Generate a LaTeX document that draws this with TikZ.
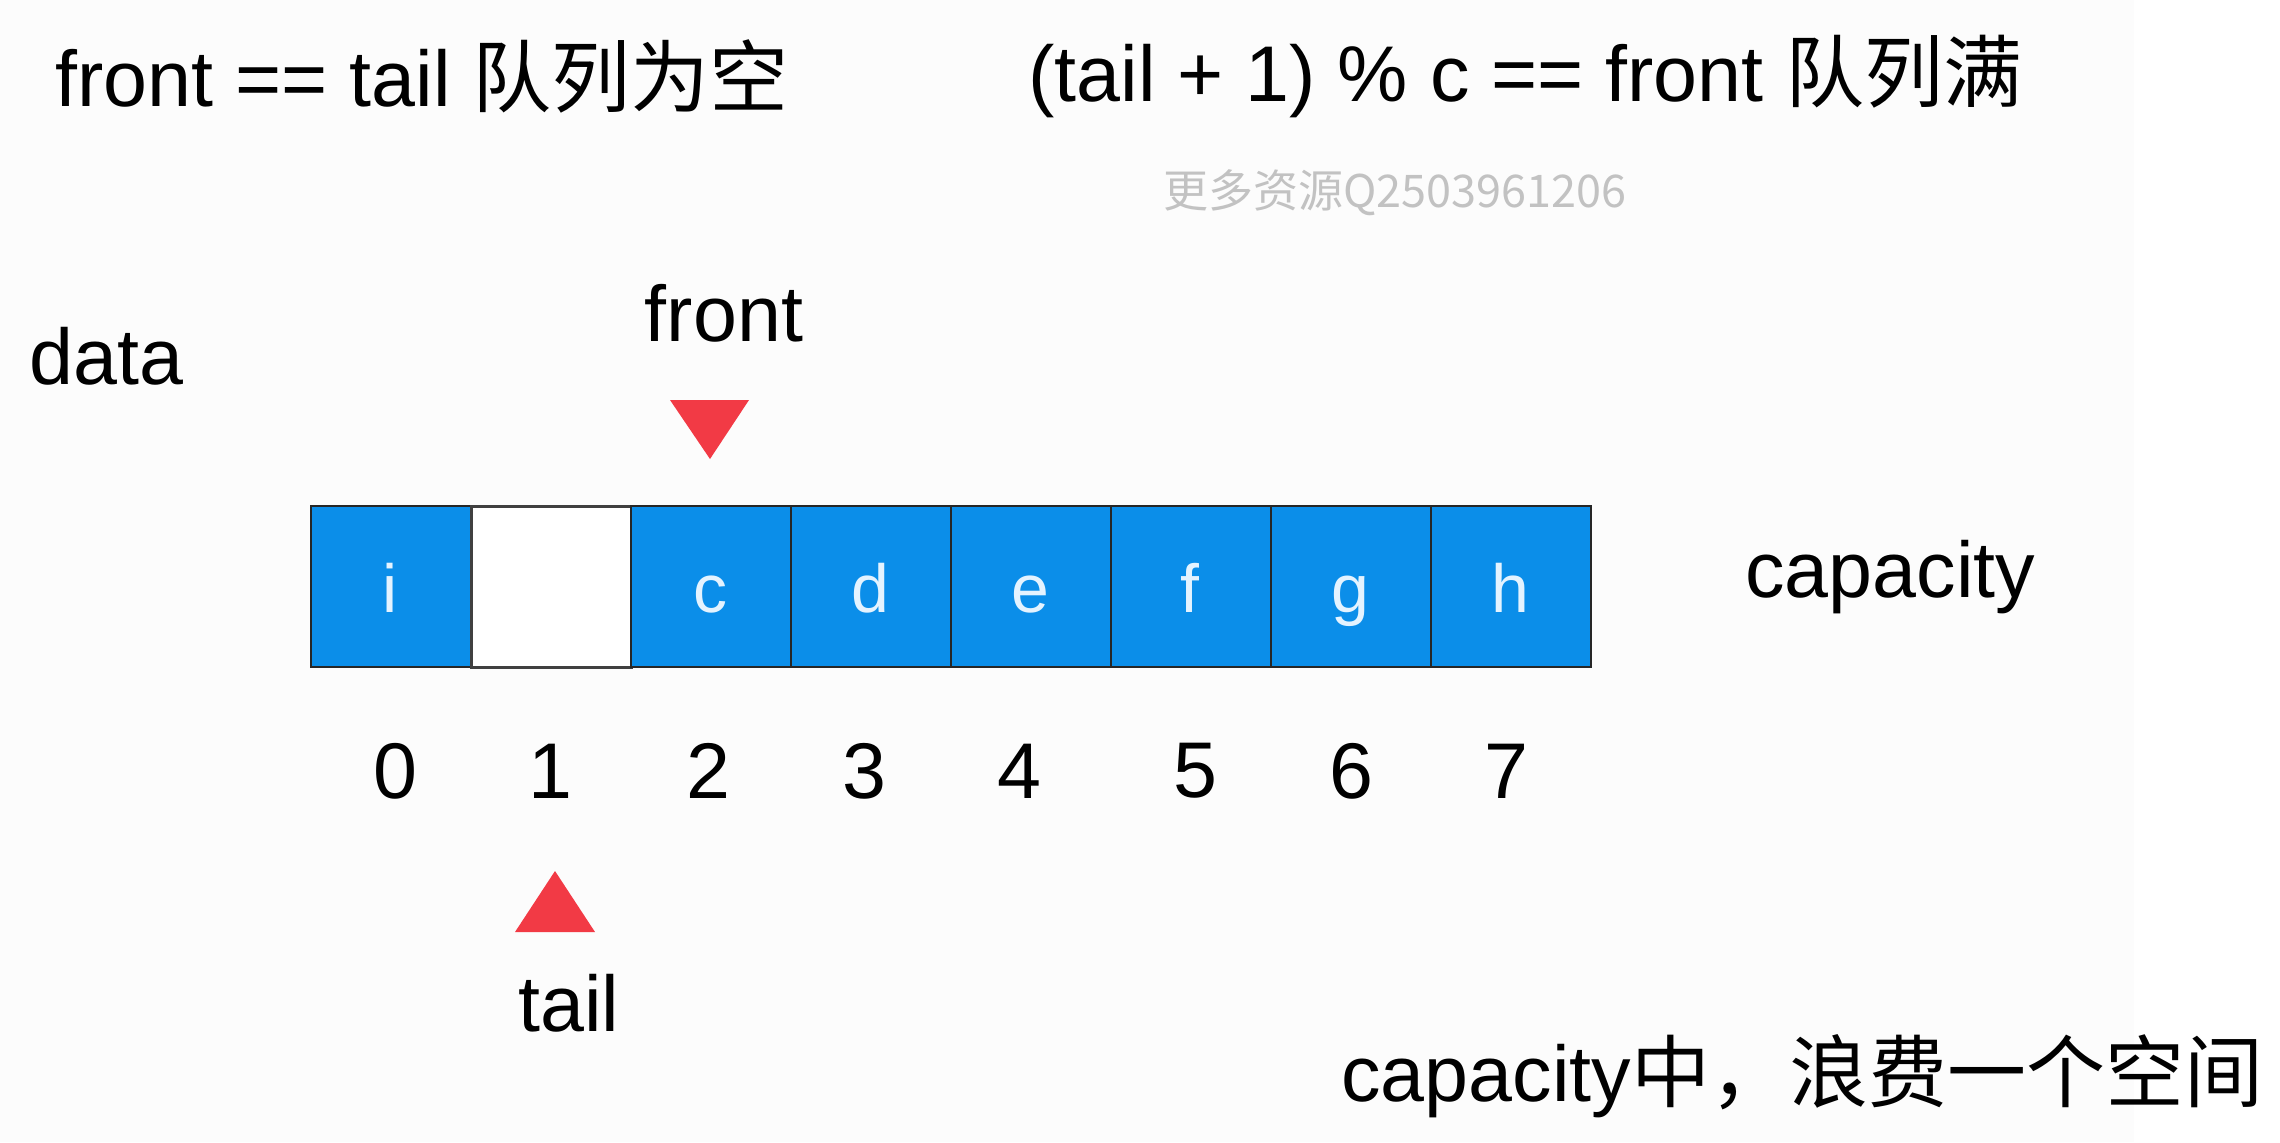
\documentclass[tikz,border=0pt]{standalone}
\usepackage{fontspec}
\setmainfont{Liberation Sans}
\newfontfamily\cjk{Noto Sans CJK SC}
\definecolor{cellblue}{HTML}{0B8EE9}
\definecolor{tri}{HTML}{F23A45}
\definecolor{wm}{HTML}{C2C2C2}
\definecolor{lettercol}{HTML}{E4F3FF}
\begin{document}
\begin{tikzpicture}[x=0.5pt,y=-0.5pt,
  big/.style={font=\fontsize{39.5}{47}\selectfont, inner sep=0pt},
  cellbox/.style={draw=black!85, line width=1.2pt, fill=cellblue, minimum width=80pt, minimum height=80.5pt, inner sep=0pt, text=lettercol, font=\fontsize{34}{40}\selectfont, anchor=north west, text depth=0pt, text height=0pt},
  emptybox/.style={cellbox, fill=white, draw=black!75, line width=1.6pt},
  tritop/.style={fill=tri}]
\useasboundingbox[fill=white] (0,0) rectangle (2280,1142);
\fill[black!1] (0,0) rectangle (2134,1142);

\node[big, anchor=west] (empty) at (55,76) {front == tail {\cjk 队列为空}};
\node[big, anchor=west] (full) at (1028,76) {(tail + 1) \% c == front {\cjk 队列满}};
\node[inner sep=0pt, text=wm, font=\cjk\fontsize{22.5}{26}\selectfont] (wmark) at (1395,193) {更多资源Q2503961206};

\node[big, anchor=west] (data) at (29,356) {data};
\node[big] (frontlbl) at (724,313) {front};
\fill[tri] (670,400) -- (749,400) -- (710,459) -- cycle;

\foreach \l [count=\i from 0] in {i,,c,d,e,f,g,h}{
  \ifnum\i=1
    \node[emptybox] (c\i) at (310+160*\i,505) {};
  \else
    \node[cellbox] (c\i) at (310+160*\i,505) {};
    \node[text=lettercol, font=\fontsize{34}{40}\selectfont, inner sep=0pt, anchor=base] (t\i) at (390+160*\i,612) {\l};
  \fi
}

\node[big, anchor=west] (cap) at (1745,577) {capacity};

\foreach \x [count=\i from 0] in {395,550,708,864,1019,1195,1351,1506}{
  \node[big] (n\i) at (\x,771) {\i};
}

\fill[tri] (515,932) -- (595,932) -- (555,871) -- cycle;
\node[big] (taillbl) at (569,1003) {tail};

\node[big, anchor=west] (waste) at (1341,1076) {capacity{\cjk 中，浪费一个空间}};
\end{tikzpicture}
\end{document}
